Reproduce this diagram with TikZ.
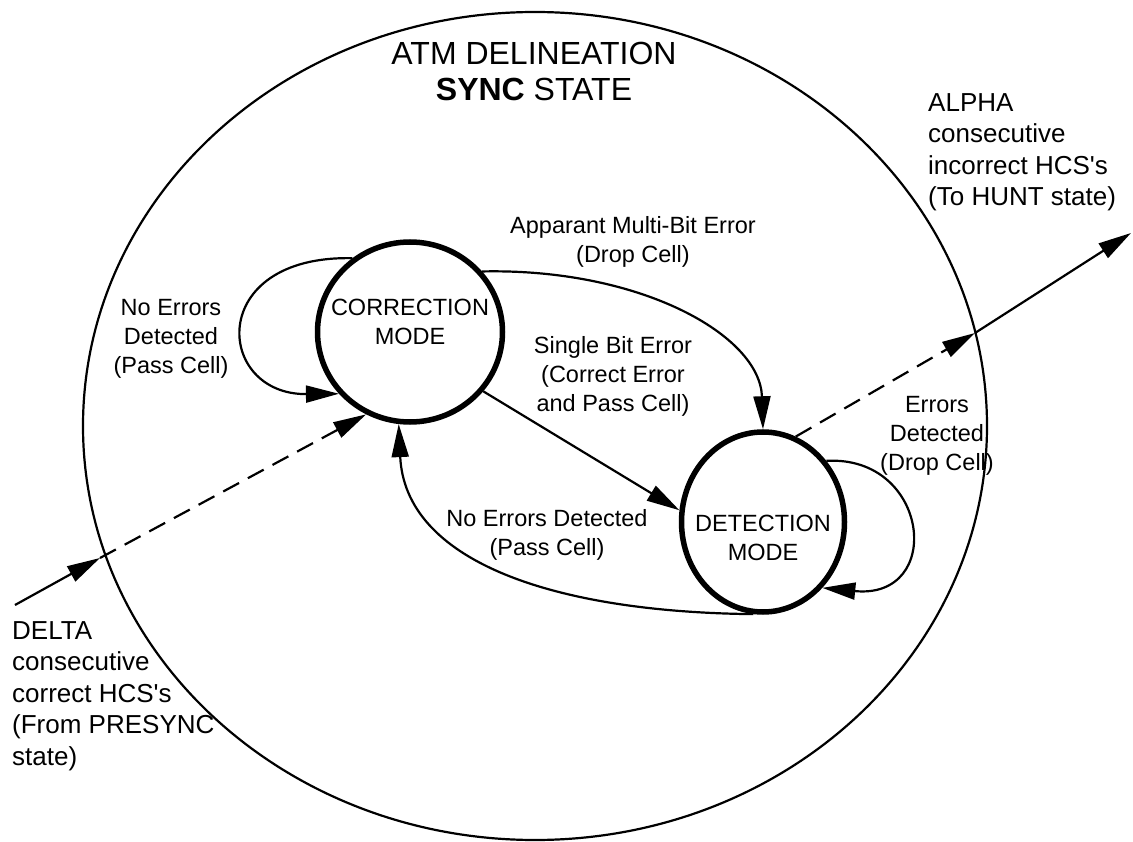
\documentclass[tikz,border=0pt]{standalone}
\usepackage{fontspec}
\setmainfont{Liberation Sans}
\usetikzlibrary{arrows.meta,shapes.geometric}
\begin{document}
\begin{tikzpicture}[x=1pt,y=-1pt,
  arr/.style={line width=2.2pt,-{Triangle[length=33pt,width=17pt]}},
  dsh/.style={dash pattern=on 18pt off 10pt},
  state/.style={draw,ellipse,line width=5.5pt,inner sep=0pt},
  lbl/.style={align=center,inner sep=0pt,font=\fontsize{23.5}{29}\selectfont},
  side/.style={align=left,inner sep=0pt,font=\fontsize{26}{31.5}\selectfont},
]
\useasboundingbox (0,0) rectangle (1133,842);
\node[draw,ellipse,line width=2.2pt,minimum width=904pt,minimum height=828pt,inner sep=0pt] (sync) at (535,426) {};
\node[inner sep=0pt,align=center,font=\fontsize{32}{36}\selectfont] (title) at (534,71) {ATM DELINEATION\\\textbf{SYNC} STATE};

\node[state,minimum width=185pt,minimum height=180pt] (corr) at (410,332) {};
\node[lbl] (corrT) at (410,322) {CORRECTION\\MODE};
\node[state,minimum width=163pt,minimum height=180pt] (det) at (763,522) {};
\node[lbl] (detT) at (763,538) {DETECTION\\MODE};

\node[lbl] (l1) at (171,339) {No Errors\\Detected\\(Pass Cell)};
\node[lbl] (l2) at (633,242) {Apparant Multi-Bit Error\\(Drop Cell)};
\node[lbl] (l3) at (613,376) {Single Bit Error\\(Correct Error\\and Pass Cell)};
\node[lbl] (l4) at (547,535) {No Errors Detected\\(Pass Cell)};
\node[lbl] (l5) at (937,436) {Errors\\Detected\\(Drop Cell)};
\node[side,anchor=west] (alpha) at (928,152) {ALPHA\\consecutive\\incorrect HCS\textquotesingle s\\(To HUNT state)};
\node[side,anchor=west] (delta) at (12,696) {DELTA\\consecutive\\correct HCS\textquotesingle s\\(From PRESYNC\\state)};

\coordinate (din) at (15,605);
\coordinate (dcross) at (100,558);
\coordinate (acr) at (975,333);
\coordinate (aout) at (1131,233);

\draw[arr] (din) -- (dcross);
\draw[arr,dsh] (dcross) -- (corr.242);
\draw[arr] (corr.128) .. controls (205,255) and (215,395) .. (corr.221);
\draw[arr] (corr.40) .. controls (640,268) and (760,335) .. (det.north);
\draw[arr] (corr.-39) -- (det.172);
\draw[arr] (det.264) .. controls (550,612) and (405,560) .. (corr.263);
\draw[arr] (det.44) .. controls (930,455) and (945,600) .. (det.-48);
\draw[arr,dsh] (det.69) -- (acr);
\draw[arr] (acr) -- (aout);
\end{tikzpicture}
\end{document}
